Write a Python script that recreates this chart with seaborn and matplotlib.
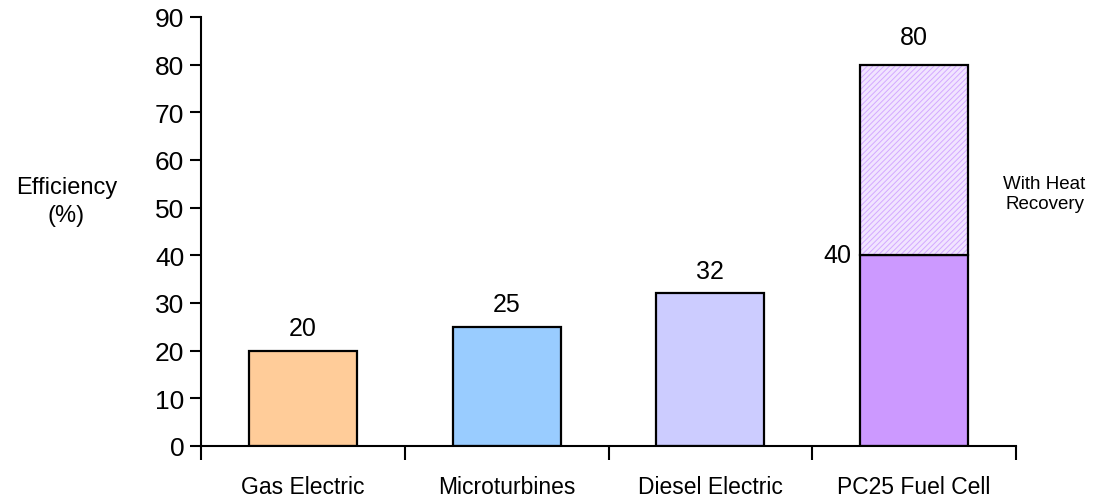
import matplotlib
matplotlib.use("Agg")
import matplotlib.pyplot as plt
import seaborn as sns
import numpy as np

# data
categories = ["Gas Electric", "Microturbines", "Diesel Electric", "PC25 Fuel Cell"]
efficiency = [20, 25, 32, 40]
heat_recovery_total = 80
colors = ["#FFCC99", "#99CCFF", "#CCCCFF", "#CC99FF"]

sns.set_style("white")
plt.rcParams["font.family"] = ["Liberation Sans", "DejaVu Sans"]
plt.rcParams["text.color"] = "black"
plt.rcParams["axes.labelcolor"] = "black"
plt.rcParams["xtick.color"] = "black"
plt.rcParams["ytick.color"] = "black"
plt.rcParams["hatch.linewidth"] = 0.7

fig = plt.figure(figsize=(10.94, 5.02), dpi=100)
ax = fig.add_axes([201 / 1094, 55 / 502, 815 / 1094, 429 / 502])

bar_w = 0.53
sns.barplot(x=categories, y=efficiency, hue=categories, palette=colors,
            legend=False, width=bar_w, saturation=1,
            edgecolor="black", linewidth=1.6, ax=ax)

# heat recovery part stacked on the fuel cell bar
last = len(categories) - 1
ax.bar(last, heat_recovery_total - efficiency[last], bottom=efficiency[last],
       width=bar_w, facecolor="#F1E4FF", edgecolor="#D3A9FF", hatch="//////",
       linewidth=0)
ax.bar(last, heat_recovery_total - efficiency[last], bottom=efficiency[last],
       width=bar_w, facecolor="none", edgecolor="black", linewidth=1.6)

# value labels
for i, v in enumerate(efficiency[:-1]):
    ax.text(i, v + 4.8, str(v), ha="center", va="center", fontsize=18)
ax.text(last - bar_w / 2 - 0.045, efficiency[last], str(efficiency[last]),
        ha="right", va="center", fontsize=18)
ax.text(last, heat_recovery_total + 5.8, str(heat_recovery_total),
        ha="center", va="center", fontsize=18)
ax.text(last + 0.64, 53, "With Heat\nRecovery", ha="center",
        va="center", fontsize=13.5, linespacing=1.25)

ax.set_xlim(-0.5, 3.5)
ax.set_ylim(0, 90)
ax.set_yticks(np.arange(0, 91, 10))
ax.set_xticks(np.arange(4))
ax.set_xticklabels(categories)
ax.set_xticks(np.arange(-0.5, 4, 1), minor=True)
ax.tick_params(axis="x", which="major", length=0, pad=21, labelsize=16.5)
ax.tick_params(axis="x", which="minor", length=10, width=1.5, direction="out",
               bottom=True)
ax.tick_params(axis="y", length=8, width=1.5, direction="out", left=True,
               labelsize=19, pad=4)

ax.set_ylabel("Efficiency\n(%)", rotation=0, fontsize=17, labelpad=0,
              ha="center", va="center", linespacing=1.35)
ax.yaxis.set_label_coords(-0.165, 0.572)

sns.despine(ax=ax)
for s in ["left", "bottom"]:
    ax.spines[s].set_linewidth(1.5)
    ax.spines[s].set_color("black")

fig.savefig("out.png", dpi=100)
